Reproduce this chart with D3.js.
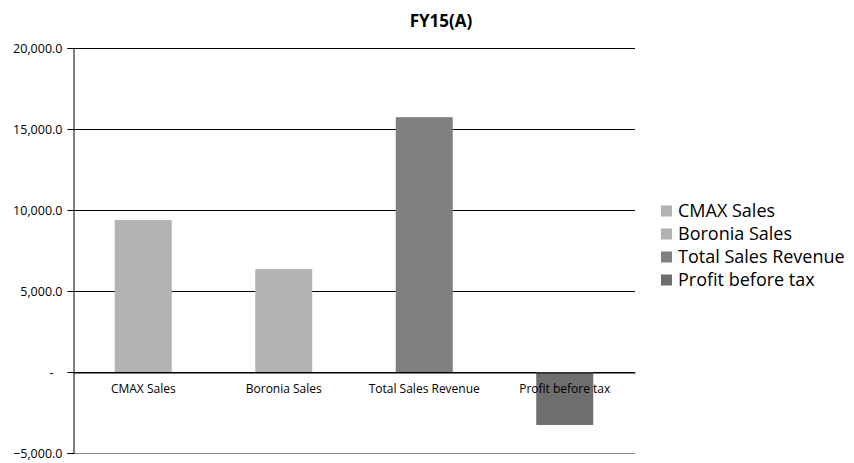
<!DOCTYPE html>
<html><head><meta charset="utf-8">
<script src="https://cdn.jsdelivr.net/npm/d3@7/dist/d3.min.js"></script>
<style>body{margin:0;background:#fff;}svg{display:block;}</style>
</head><body>
<svg id="c" width="854" height="463"></svg>
<script>
const categories = ["CMAX Sales","Boronia Sales","Total Sales Revenue","Profit before tax"];
const values = [9380, 6350, 15730, -3270];
const colors = ["#b2b2b2","#b2b2b2","#808080","#6e6e6e"];
const yTicks = [-5000, 0, 5000, 10000, 15000, 20000];
const title = "FY15(A)";

const svg = d3.select("#c");
const font = "'Open Sans', 'Noto Sans', sans-serif";
const L = 73, R = 635, T = 48, B = 453;
const xb = d3.scaleBand().domain(categories).range([L, R]);
const y = d3.scaleLinear().domain([-5000, 20000]).range([B, T]);

// gridlines
svg.append("g").selectAll("line").data(yTicks).join("line")
  .attr("x1", L).attr("x2", R)
  .attr("y1", d => Math.round(y(d)) + 0.5).attr("y2", d => Math.round(y(d)) + 0.5)
  .attr("stroke", d => d === -5000 ? "#868686" : "#000").attr("stroke-width", 1);

// bars
svg.append("g").selectAll("rect").data(categories).join("rect")
  .attr("x", (d) => xb(d) + (xb.bandwidth() - 57) / 2)
  .attr("width", 57)
  .attr("y", (d, i) => y(Math.max(0, values[i])))
  .attr("height", (d, i) => Math.abs(y(values[i]) - y(0)))
  .attr("fill", (d, i) => colors[i]);

// y axis
const yAxis = d3.axisLeft(y).tickValues(yTicks).tickSize(6)
  .tickFormat(d => d === 0 ? "-" : d3.format(",.1f")(d));
const ga = svg.append("g").attr("transform", `translate(${L + 0.5},0)`).call(yAxis);
ga.select(".domain").attr("stroke", "#000");
ga.selectAll(".tick line").attr("stroke", "#000");
ga.selectAll(".tick text").attr("font-family", font).attr("font-size", 12.5).attr("fill", "#000")
  .attr("x", d => d === 0 ? -20 : -11);

// x axis at zero
const xAxis = d3.axisBottom(xb).tickSize(0).tickPadding(12);
const gx = svg.append("g").attr("transform", `translate(0,${Math.round(y(0)) + 0.5})`).call(xAxis);
gx.select(".domain").attr("stroke", "#000");
gx.selectAll(".tick text").attr("font-family", font).attr("font-size", 12).attr("fill", "#000");

// title
svg.append("text").attr("x", 441).attr("y", 27).attr("text-anchor", "middle")
  .attr("font-family", font).attr("font-size", 17).attr("font-weight", "bold").text(title);

// legend
const lg = svg.append("g").selectAll("g").data(categories).join("g")
  .attr("transform", (d, i) => `translate(661,${211 + i * 23})`);
lg.append("rect").attr("x", 0).attr("y", -5.5).attr("width", 11).attr("height", 11)
  .attr("fill", (d, i) => colors[i]);
lg.append("text").attr("x", 17).attr("y", 0).attr("dy", "0.35em")
  .attr("font-family", font).attr("font-size", 18).attr("fill", "#000").text(d => d);
</script>
</body></html>
